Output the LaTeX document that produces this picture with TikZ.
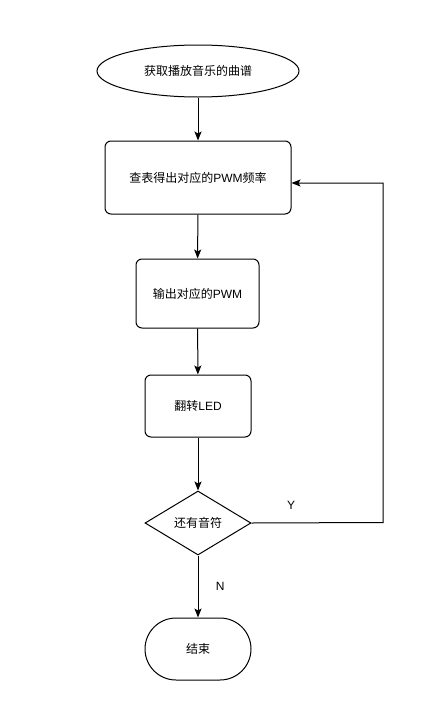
\documentclass[tikz,border=0pt]{standalone}
\usepackage{fontspec}
\setmainfont{Liberation Sans}
\newfontfamily\cjk{Noto Sans CJK SC}
\usetikzlibrary{shapes.geometric,arrows.meta}
\begin{document}
\begin{tikzpicture}[x=1pt,y=-1pt,
  base/.style={draw=black,line width=1pt,align=center,font=\fontsize{12}{14}\selectfont,inner sep=0pt},
  roundbox/.style={base,rectangle,rounded corners=6pt},
  startnode/.style={base,ellipse},
  decision/.style={base,diamond,aspect=1.66},
  terminal/.style={base,rectangle,rounded corners=31pt},
  flow/.style={line width=1pt,-{Stealth[length=9pt,width=7pt,inset=2pt]}},
  lbl/.style={font=\fontsize{12}{14}\selectfont}]
\useasboundingbox (0,0) rectangle (442,707);
\fill[white] (0,0) rectangle (442,707);
\node[startnode,minimum width=202pt,minimum height=52pt] (start) at (198,71) {{\cjk 获取播放音乐的曲谱}};
\node[roundbox,minimum width=186pt,minimum height=73pt] (lookup) at (198,177.5) {{\cjk 查表得出对应的}PWM{\cjk 频率}};
\node[roundbox,minimum width=123pt,minimum height=69pt] (out) at (197.5,293.5) {{\cjk 输出对应的}PWM};
\node[roundbox,minimum width=106pt,minimum height=62pt] (led) at (198,406) {{\cjk 翻转}LED};
\node[decision,minimum width=106pt,minimum height=64pt] (dec) at (198,523) {{\cjk 还有音符}};
\node[terminal,minimum width=106pt,minimum height=62pt] (end) at (198,649) {{\cjk 结束}};
\coordinate (c1) at (383,522.5);
\coordinate (c2) at (383,183);
\draw[flow] (start) -- (lookup);
\draw[flow] (lookup) -- (out);
\draw[flow] (out) -- (led);
\draw[flow] (led) -- (dec);
\draw[flow] (dec) -- node[lbl,pos=0.5,right=14pt] (nl) {N} (end);
\draw[flow] (dec.east) -- (c1) -- (c2) -- (lookup.east |- c2);
\node[lbl] (yl) at (291,505) {Y};
\end{tikzpicture}
\end{document}
